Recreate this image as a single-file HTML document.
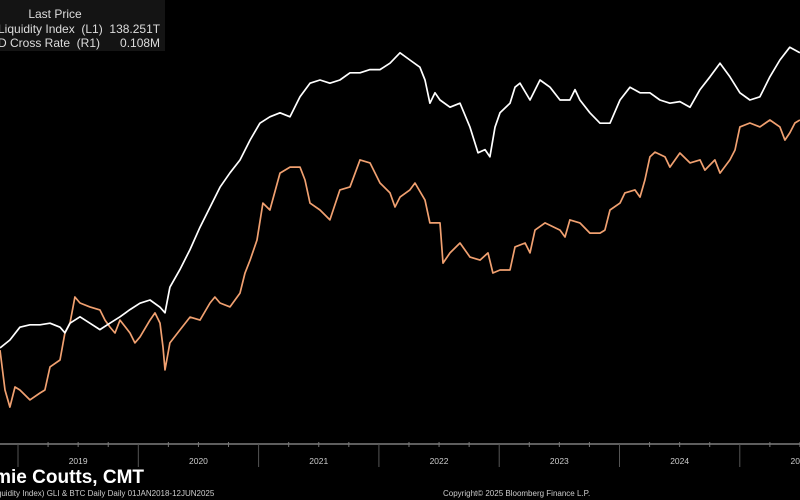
<!DOCTYPE html>
<html><head><meta charset="utf-8"><style>
html,body{margin:0;padding:0;background:#000;width:800px;height:500px;overflow:hidden}
svg{display:block}
text{font-family:"Liberation Sans","DejaVu Sans",sans-serif}
</style></head><body>
<svg id="chart" width="800" height="500" viewBox="0 0 800 500">
<rect width="800" height="500" fill="#000"/>
<g id="axis"></g>
<g id="series"></g>
<g>
<rect x="-5" y="0" width="170" height="51" fill="#141414"/>
<text x="55" y="18" fill="#ddd" font-size="12" text-anchor="middle">Last Price</text>
<text x="-2" y="33" fill="#ddd" font-size="12" xml:space="preserve">Liquidity Index  (L1)  138.251T</text>
<text x="-2" y="47" fill="#ddd" font-size="12" xml:space="preserve">D Cross Rate  (R1)      0.108M</text>
</g>
<text x="-27" y="483" fill="#fff" font-size="19" font-weight="bold">Jamie Coutts, CMT</text>
<text x="-12" y="496" fill="#ccc" font-size="8">(Liquidity Index) GLI &amp; BTC Daily  Daily 01JAN2018-12JUN2025</text>
<text x="443" y="496" fill="#ccc" font-size="8">Copyright© 2025 Bloomberg Finance L.P.</text>
</svg>
<script>
const years = [2019, 2020, 2021, 2022, 2023, 2024, 2025];
const gliDates = [2018.850,2018.933,2019.016,2019.099,2019.183,2019.266,2019.349,2019.390,2019.432,2019.515,2019.598,2019.681,2019.764,2019.848,2019.931,2020.014,2020.097,2020.180,2020.222,2020.263,2020.346,2020.430,2020.513,2020.596,2020.679,2020.762,2020.845,2020.929,2021.011,2021.094,2021.178,2021.261,2021.344,2021.427,2021.510,2021.593,2021.676,2021.760,2021.843,2021.926,2022.009,2022.092,2022.175,2022.258,2022.341,2022.383,2022.424,2022.466,2022.508,2022.591,2022.674,2022.757,2022.824,2022.882,2022.923,2022.965,2023.007,2023.090,2023.131,2023.173,2023.256,2023.339,2023.422,2023.505,2023.588,2023.630,2023.671,2023.754,2023.838,2023.921,2024.004,2024.087,2024.170,2024.253,2024.336,2024.419,2024.502,2024.586,2024.669,2024.752,2024.835,2024.918,2025.001,2025.084,2025.167,2025.250,2025.333,2025.416,2025.500];
const gliValues = [102.0,103.0,104.6,104.9,104.9,105.1,104.6,103.9,105.1,105.9,105.1,104.3,105.1,105.9,106.8,107.6,108.0,107.1,106.4,109.6,111.8,114.3,117.1,119.6,122.1,123.9,125.5,128.0,130.1,130.9,131.4,130.9,133.4,135.1,135.5,135.1,135.5,136.4,136.4,136.8,136.8,137.6,138.9,138.0,137.1,135.5,132.6,133.9,133.0,132.1,132.6,129.6,126.4,126.8,125.9,129.6,131.4,132.6,134.6,135.1,133.0,135.5,134.6,133.0,133.0,134.3,133.0,131.4,130.1,130.1,133.0,134.6,133.9,133.9,133.0,132.6,132.8,132.1,134.3,135.9,137.6,135.9,133.9,133.0,133.4,135.9,138.0,139.6,138.9];
const btcDates = [2018.850,2018.892,2018.933,2018.975,2019.016,2019.099,2019.183,2019.224,2019.266,2019.349,2019.390,2019.432,2019.473,2019.515,2019.598,2019.681,2019.723,2019.764,2019.806,2019.848,2019.931,2019.972,2020.014,2020.097,2020.139,2020.180,2020.205,2020.222,2020.263,2020.346,2020.430,2020.513,2020.596,2020.637,2020.679,2020.762,2020.845,2020.887,2020.929,2020.987,2021.036,2021.094,2021.178,2021.261,2021.344,2021.386,2021.427,2021.510,2021.593,2021.676,2021.760,2021.843,2021.926,2022.009,2022.092,2022.134,2022.175,2022.258,2022.300,2022.383,2022.424,2022.508,2022.533,2022.591,2022.674,2022.757,2022.840,2022.907,2022.948,2023.007,2023.090,2023.131,2023.215,2023.256,2023.298,2023.381,2023.505,2023.547,2023.588,2023.671,2023.754,2023.838,2023.879,2023.921,2024.004,2024.045,2024.128,2024.170,2024.211,2024.253,2024.295,2024.378,2024.419,2024.502,2024.586,2024.669,2024.710,2024.793,2024.835,2024.918,2024.960,2025.001,2025.084,2025.167,2025.250,2025.333,2025.375,2025.416,2025.458,2025.500];
const btcValues = [31.3,18.0,12.3,19.0,18.0,14.7,17.0,18.0,25.7,28.0,37.0,40.3,49.0,47.0,45.7,44.7,41.3,39.0,37.0,41.3,37.0,33.7,35.7,41.3,43.7,40.3,32.3,24.7,33.7,38.0,42.3,41.3,47.0,49.0,47.0,45.7,50.3,57.0,61.3,68.0,80.3,78.0,90.3,92.3,92.3,88.0,80.3,78.0,74.7,84.7,85.7,94.7,93.7,87.0,83.7,79.0,82.3,84.7,87.0,81.3,73.7,73.7,60.3,63.7,67.0,62.3,61.3,63.7,57.0,58.0,58.0,65.7,67.0,63.7,71.3,73.7,71.3,69.0,74.7,73.7,70.3,70.3,71.3,78.0,80.3,83.7,84.7,82.3,88.0,95.7,97.3,95.7,92.3,97.0,93.7,94.7,91.3,94.7,90.3,94.7,98.0,105.7,107.0,105.7,108.0,105.7,101.3,103.7,107.0,108.0];

const NS = 'http://www.w3.org/2000/svg';
const X0 = 18, YEARW = 120.3, AXIS_Y = 444;
function xScale(t){ return X0 + (t - 2019) * YEARW; }
function yGli(v){ return AXIS_Y - (v - 90) * 8; }
function yBtc(v){ return AXIS_Y - v * 3; }

const axis = document.getElementById('axis');
const base = document.createElementNS(NS,'line');
base.setAttribute('x1',0);base.setAttribute('x2',800);base.setAttribute('y1',AXIS_Y);base.setAttribute('y2',AXIS_Y);
base.setAttribute('stroke','#bbb');base.setAttribute('stroke-width','1');


axis.appendChild(base);
for (let y = 2018; y <= 2025; y++) {
  const x = xScale(y);
  const d = document.createElementNS(NS,'line');
  d.setAttribute('x1',x);d.setAttribute('x2',x);d.setAttribute('y1',AXIS_Y);d.setAttribute('y2',467);
  d.setAttribute('stroke','#555');
  
  
  axis.appendChild(d);
  for (let q = 1; q < 4; q++) {
    const mx = xScale(y + q/4);
    const m = document.createElementNS(NS,'line');
    m.setAttribute('x1',mx);m.setAttribute('x2',mx);m.setAttribute('y1',AXIS_Y-2);m.setAttribute('y2',AXIS_Y+3);
    m.setAttribute('stroke','#777');
    
    
    axis.appendChild(m);
  }
}
years.forEach(yr => {
  const t = document.createElementNS(NS,'text');
  t.setAttribute('x', xScale(yr + 0.5));
  t.setAttribute('y', 464);
  t.setAttribute('fill','#ccc');t.setAttribute('font-size','8.5');t.setAttribute('text-anchor','middle');
  t.textContent = yr;
  
  
  axis.appendChild(t);
});

const series = document.getElementById('series');
function drawLine(dates, vals, ys, color, name){
  const p = document.createElementNS(NS,'polyline');
  p.setAttribute('points', dates.map((d,i)=> xScale(d).toFixed(1)+','+ys(vals[i]).toFixed(1)).join(' '));
  p.setAttribute('fill','none');p.setAttribute('stroke',color);p.setAttribute('stroke-width','1.7');
  p.setAttribute('stroke-linejoin','round');
  
  
  series.appendChild(p);
}
drawLine(btcDates, btcValues, yBtc, '#f0a070', 'btc-line');
drawLine(gliDates, gliValues, yGli, '#ffffff', 'gli-line');
</script>
</body></html>
